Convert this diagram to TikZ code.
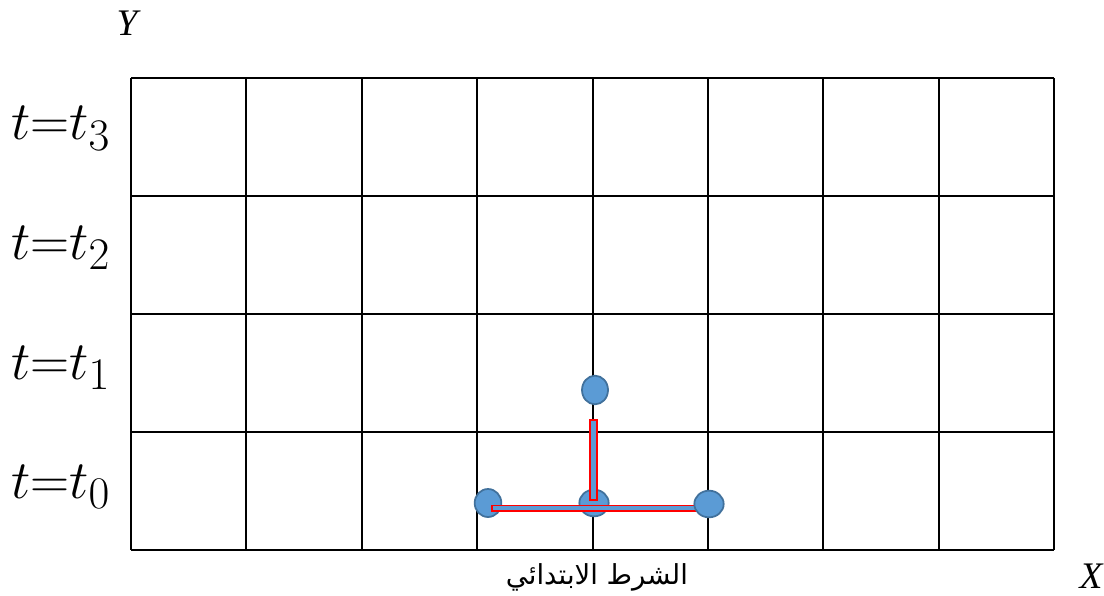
\documentclass[tikz,border=0pt]{standalone}
\usepackage{fontspec}
\usetikzlibrary{shapes.geometric}
\TeXXeTstate=1
\newfontfamily\arabicfont[Script=Arabic]{DejaVu Sans}
\newfontfamily\serifit{Liberation Serif}
\definecolor{dotfill}{HTML}{5B9BD5}
\definecolor{dotline}{HTML}{41719C}
\newcommand{\biglab}[1]{\scalebox{1.86}{\fontsize{24.88}{24.88}\selectfont$#1$}}
\begin{document}
\begin{tikzpicture}[x=0.03cm,y=-0.03cm,
  gridline/.style={black,line width=1.7pt},
  dot/.style={ellipse,fill=dotfill,draw=dotline,line width=1.5pt,inner sep=0pt,minimum width=0.8cm,minimum height=0.84cm},
  bar/.style={fill=dotfill,draw=red,line width=1.5pt},
  tlabel/.style={anchor=base west,inner sep=0pt},
  axislabel/.style={inner sep=0pt,font=\serifit\itshape\fontsize{32}{32}\selectfont}]
\useasboundingbox (0,0) rectangle (1104,596);
% grid
\foreach \x in {131,246.4,361.8,477.1,592.5,707.9,823.3,938.6,1054}
  \draw[gridline] (\x,78) -- (\x,550);
\foreach \y in {78,196,314,432,550}
  \draw[gridline] (131,\y) -- (1054,\y);
% labels
\node[tlabel] (t3) at (11,140) {\biglab{t{=}t_3}};
\node[tlabel] (t2) at (11,259) {\biglab{t{=}t_2}};
\node[tlabel] (t1) at (11,379) {\biglab{t{=}t_1}};
\node[tlabel] (t0) at (11,498) {\biglab{t{=}t_0}};
\node[axislabel] (Y) at (127,23) {Y};
\node[axislabel] (X) at (1091,576) {X};
\node[inner sep=0pt,font=\arabicfont\fontsize{23.5}{23.5}\selectfont] (cond) at (597,577) {\beginR الشرط الابتدائي\endR};
% dots and bars
\node[dot] (L) at (488,503) {};
\node[dot,minimum width=0.88cm,minimum height=0.8cm] (M) at (594,503) {};
\draw[bar] (492,505.5) rectangle (700,511);
\draw[bar] (590,420) rectangle (597,500);
\node[dot,minimum width=0.88cm,minimum height=0.8cm] (R) at (709,504) {};
\node[dot,minimum width=0.78cm,minimum height=0.86cm] (T) at (595,390) {};
\end{tikzpicture}
\end{document}
